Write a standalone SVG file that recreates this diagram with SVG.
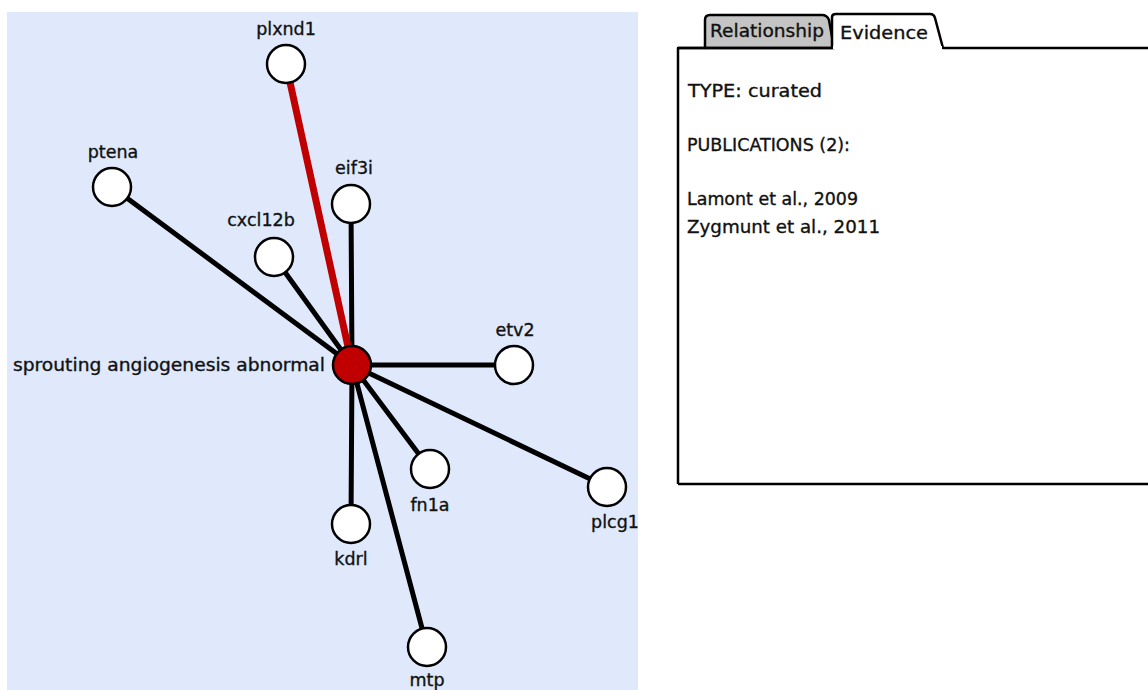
<svg xmlns="http://www.w3.org/2000/svg" width="1148" height="690" viewBox="0 0 1148 690">
  <style>
    text { font-family: "DejaVu Sans", "Liberation Sans", sans-serif; font-size: 17.5px; fill: #111; stroke: #111; stroke-width: 0.35; }
    .lbl { text-anchor: middle; }
    .edge { stroke: #000; stroke-width: 5; stroke-linecap: round; fill: none; }
    .hl { stroke: #c00000; stroke-width: 7; }
    .gene { fill: #fff; stroke: #000; stroke-width: 2.5; }
    .phen { fill: #c00000; stroke: #000; stroke-width: 2.5; }
    .frame { fill: none; stroke: #000; stroke-width: 2.5; stroke-linejoin: round; }
  </style>

  <!-- network panel -->
  <rect x="7" y="12" width="631" height="678" fill="#dfe9fb"/>

  <g id="connectors">
    <line class="edge" x1="352" y1="365" x2="112" y2="187"/>
    <line class="edge" x1="352" y1="365" x2="351" y2="204"/>
    <line class="edge" x1="352" y1="365" x2="274" y2="257"/>
    <line class="edge" x1="352" y1="365" x2="514" y2="365"/>
    <line class="edge" x1="352" y1="365" x2="430" y2="469"/>
    <line class="edge" x1="352" y1="365" x2="607" y2="487"/>
    <line class="edge" x1="352" y1="365" x2="351" y2="524"/>
    <line class="edge" x1="352" y1="365" x2="427" y2="647"/>
    <line class="edge hl" x1="352" y1="365" x2="286" y2="64"/>
  </g>

  <g id="plxnd1"><circle class="gene" cx="286" cy="64" r="19"/><text class="lbl" x="286" y="35">plxnd1</text></g>
  <g id="ptena"><circle class="gene" cx="112" cy="187" r="19"/><text class="lbl" x="113" y="158">ptena</text></g>
  <g id="eif3i"><circle class="gene" cx="351" cy="204" r="19"/><text class="lbl" x="354" y="174">eif3i</text></g>
  <g id="cxcl12b"><circle class="gene" cx="274" cy="257" r="19"/><text class="lbl" x="261" y="226">cxcl12b</text></g>
  <g id="etv2"><circle class="gene" cx="514" cy="365" r="19"/><text class="lbl" x="515" y="336">etv2</text></g>
  <g id="fn1a"><circle class="gene" cx="430" cy="469" r="19"/><text class="lbl" x="430" y="511">fn1a</text></g>
  <g id="plcg1"><circle class="gene" cx="607" cy="487" r="19"/><text class="lbl" x="615" y="528">plcg1</text></g>
  <g id="kdrl"><circle class="gene" cx="351" cy="524" r="19"/><text class="lbl" x="351" y="565">kdrl</text></g>
  <g id="mtp"><circle class="gene" cx="427" cy="647" r="19"/><text class="lbl" x="427" y="686">mtp</text></g>
  <g id="sprouting-angiogenesis-abnormal">
    <circle class="phen" cx="352" cy="365" r="19"/>
    <text x="325" y="371" text-anchor="end" textLength="312" lengthAdjust="spacingAndGlyphs">sprouting angiogenesis abnormal</text>
  </g>

  <!-- details panel -->
  <g id="details">
    <path d="M705,48 L705,20 Q705,15 710,15 L822,15 Q827,15 829,20 L834,48 Z" fill="#c4c4c4" stroke="#000" stroke-width="2.5" stroke-linejoin="round"/>
    <path class="frame" d="M678,48 L705,48"/>
    <rect x="833" y="16" width="100" height="33" fill="#fff"/>
    <path class="frame" d="M678,484 L678,48 L832,48 L832,17 Q832,14 836,14 L930,14 Q934,14 935,18 L943,48 L1148,48"/>
    <path class="frame" d="M678,484 L1148,484"/>
    <path d="M833,47.5 L942,47.5" stroke="#fff" stroke-width="3"/>
    <text x="710" y="37" textLength="114" lengthAdjust="spacingAndGlyphs">Relationship</text>
    <text x="840" y="39" textLength="88" lengthAdjust="spacingAndGlyphs">Evidence</text>
    <text x="688" y="97" textLength="134" lengthAdjust="spacingAndGlyphs">TYPE: curated</text>
    <text x="687" y="151" textLength="163" lengthAdjust="spacingAndGlyphs">PUBLICATIONS (2):</text>
    <text x="687" y="205" textLength="171" lengthAdjust="spacingAndGlyphs">Lamont et al., 2009</text>
    <text x="687" y="233" textLength="193" lengthAdjust="spacingAndGlyphs">Zygmunt et al., 2011</text>
  </g>
</svg>
